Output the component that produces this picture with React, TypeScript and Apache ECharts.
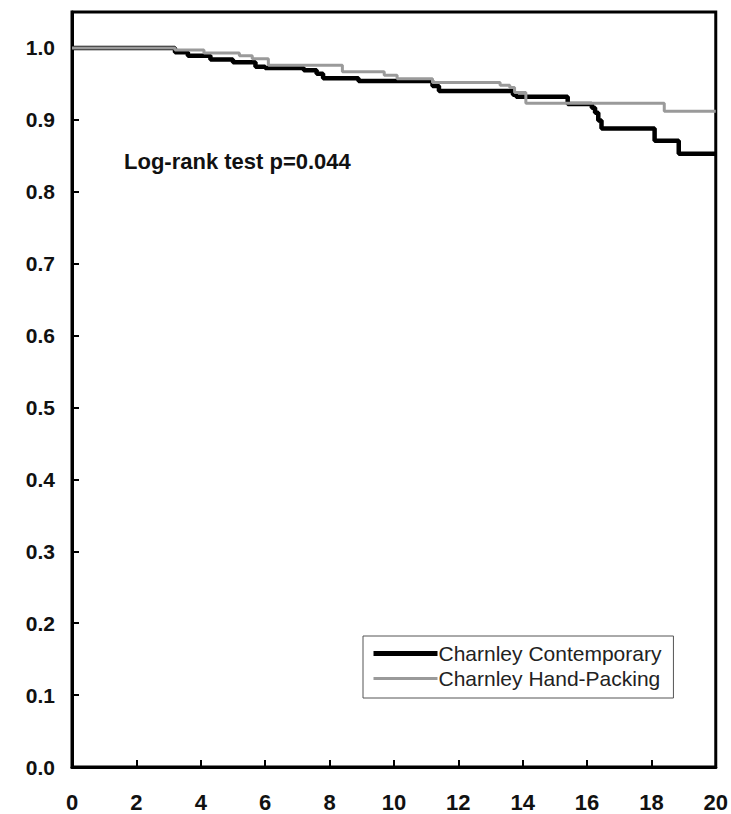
import React, { useEffect, useRef } from "react";
import * as echarts from "echarts";

// Kaplan–Meier step data (time in years, survival)
const contemporaryTimes = [0, 3.2, 3.6, 4.3, 5.0, 5.7, 6.0, 7.2, 7.6, 7.8, 8.9, 11.2, 11.4, 13.7, 13.8, 15.4, 16.15, 16.25, 16.35, 16.45, 18.1, 18.85, 20];
const contemporarySurv = [1.0, 0.994, 0.989, 0.984, 0.98, 0.974, 0.972, 0.969, 0.964, 0.958, 0.954, 0.947, 0.94, 0.935, 0.932, 0.922, 0.917, 0.91, 0.899, 0.888, 0.871, 0.853, 0.853];

const handTimes = [0, 3.2, 4.1, 5.2, 5.6, 6.1, 8.4, 9.7, 10.1, 11.2, 13.3, 13.6, 13.75, 14.1, 18.4, 20];
const handSurv = [1.0, 0.997, 0.993, 0.989, 0.985, 0.976, 0.967, 0.962, 0.957, 0.952, 0.948, 0.945, 0.938, 0.923, 0.912, 0.912];

const seriesNames = ["Charnley Contemporary", "Charnley Hand-Packing"];
const annotation = "Log-rank test p=0.044";

const FONT = "'Liberation Sans', Arial, sans-serif";

export default function App() {
  const ref = useRef<HTMLDivElement>(null);

  useEffect(() => {
    if (!ref.current) return;
    const chart = echarts.init(ref.current, undefined, { renderer: "svg" });
    const contData = contemporaryTimes.map((t, i) => [t, contemporarySurv[i]]);
    const handData = handTimes.map((t, i) => [t, handSurv[i]]);

    chart.setOption({
      animation: false,
      backgroundColor: "#fff",
      grid: {
        left: 72,
        right: 15,
        top: 12,
        bottom: 47,
        show: true,
        borderColor: "#000",
        borderWidth: 3,
        backgroundColor: "transparent",
      },
      xAxis: {
        type: "value",
        min: 0,
        max: 20,
        interval: 2,
        splitLine: { show: false },
        axisLine: { lineStyle: { color: "#000", width: 3 } },
        axisTick: { inside: true, length: 7, lineStyle: { color: "#000", width: 2 } },
        axisLabel: {
          margin: 24,
          fontSize: 22,
          fontWeight: "bold",
          fontFamily: FONT,
          color: "#111",
        },
      },
      yAxis: {
        type: "value",
        min: 0,
        max: 1.05,
        interval: 0.1,
        splitLine: { show: false },
        axisLine: { lineStyle: { color: "#000", width: 3 } },
        axisTick: { inside: true, length: 7, lineStyle: { color: "#000", width: 2 } },
        axisLabel: {
          margin: 17,
          fontSize: 21,
          fontWeight: "bold",
          fontFamily: FONT,
          color: "#111",
          showMaxLabel: false,
          formatter: (v: number) => v.toFixed(1),
        },
      },
      legend: {
        orient: "vertical",
        left: 363,
        top: 636,
        padding: [7, 12, 9, 8],
        itemGap: 4,
        itemWidth: 64,
        itemHeight: 14,
        borderColor: "#555",
        borderWidth: 1,
        backgroundColor: "#fff",
        itemStyle: { opacity: 0 },
        textStyle: { fontSize: 21, fontFamily: FONT, color: "#222", padding: [0, 0, 0, -4] },
        data: [
          { name: seriesNames[0], lineStyle: { width: 5, color: "#000" } },
          { name: seriesNames[1], lineStyle: { width: 3, color: "#9a9a9a" } },
        ],
      },
      graphic: [
        {
          type: "text",
          left: 124,
          top: 150,
          style: {
            text: annotation,
            font: `bold 22px ${FONT}`,
            fill: "#111",
          },
        },
      ],
      series: [
        {
          name: seriesNames[0],
          type: "line",
          step: "end",
          data: contData,
          symbol: "none",
          lineStyle: { color: "#000", width: 4.5 },
          itemStyle: { color: "#000" },
          z: 2,
        },
        {
          name: seriesNames[1],
          type: "line",
          step: "end",
          data: handData,
          symbol: "none",
          lineStyle: { color: "#9a9a9a", width: 3 },
          itemStyle: { color: "#9a9a9a" },
          z: 3,
        },
      ],
    });
    return () => chart.dispose();
  }, []);

  return (
    <div
      ref={ref}
      style={{ position: "fixed", left: 0, top: 0, width: 731, height: 814, background: "#fff" }}
    />
  );
}
